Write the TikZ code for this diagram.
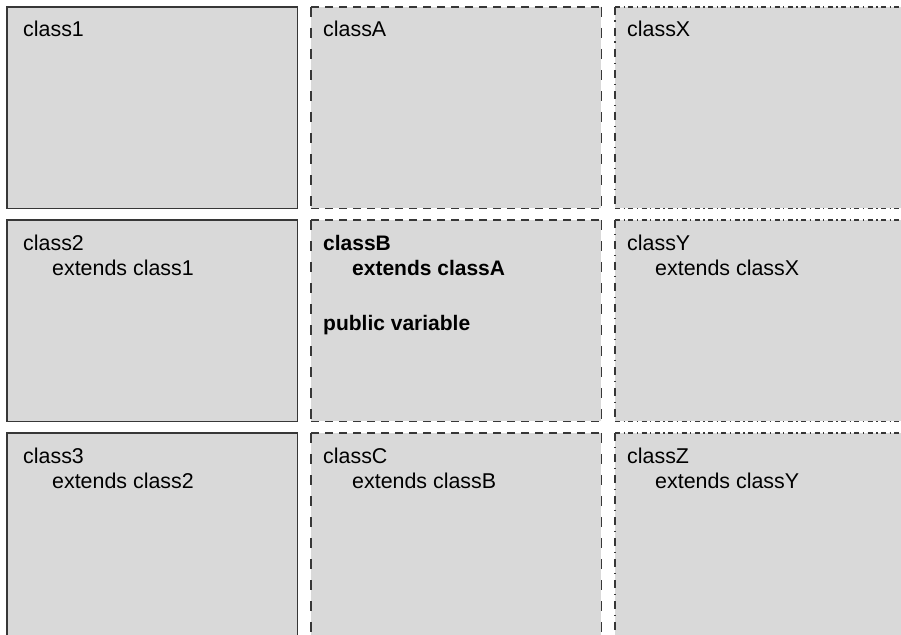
\documentclass[tikz,border=0pt]{standalone}
\usepackage{fontspec}
\setmainfont{Liberation Sans}
\definecolor{boxgray}{RGB}{217,217,217}
\definecolor{edgegray}{RGB}{55,55,55}
\tikzset{
  box/.style={fill=boxgray, draw=none, inner sep=0pt, anchor=north west,
    minimum width=290pt, minimum height=201pt},
  lastrow/.style={minimum height=215pt},
  edge/.style={draw=edgegray, line width=1.3pt},
  solidedge/.style={edge},
  dashh/.style={edge, dash pattern=on 8pt off 6pt},
  dashv/.style={edge, dash pattern=on 10pt off 11pt},
  dotdashh/.style={edge, dash pattern=on 5pt off 3.5pt on 1.3pt off 3.5pt},
  dotdashv/.style={edge, dash pattern=on 8pt off 5.5pt on 1.5pt off 6pt},
  lbl/.style={anchor=base west, inner sep=0pt, font=\fontsize{21.4}{25}\selectfont},
  blbl/.style={lbl, font=\fontsize{21}{25}\selectfont\bfseries},
}
\begin{document}
\begin{tikzpicture}[x=1pt,y=1pt]
\useasboundingbox (0,0) rectangle (901,-634);
\clip (0,0) rectangle (901,-634);
% boxes
\node[box] (c1) at (7,-7) {};
\node[box] (c2) at (7,-220) {};
\node[box, lastrow] (c3) at (7,-433) {};
\node[box] (cA) at (311,-7) {};
\node[box] (cB) at (311,-220) {};
\node[box, lastrow] (cC) at (311,-433) {};
\node[box] (cX) at (615,-7) {};
\node[box] (cY) at (615,-220) {};
\node[box, lastrow] (cZ) at (615,-433) {};
% column 1: solid
\foreach \b in {c1,c2,c3}{
  \draw[solidedge] (\b.north west) rectangle (\b.south east);
}
% column 2: dashed
\foreach \b in {cA,cB,cC}{
  \draw[dashh] (\b.north west) -- (\b.north east);
  \draw[dashh] (\b.south west) -- (\b.south east);
  \draw[dashv] (\b.north west) -- (\b.south west);
  \draw[dashv] (\b.north east) -- (\b.south east);
}
% column 3: dash-dot
\foreach \b in {cX,cY,cZ}{
  \draw[dotdashh] (\b.north west) -- (\b.north east);
  \draw[dotdashh] (\b.south west) -- (\b.south east);
  \draw[dotdashv] (\b.north west) -- (\b.south west);
  \draw[dotdashv] (\b.north east) -- (\b.south east);
}
% labels
\node[lbl] (t1) at (23,-37) {class1};
\node[lbl] (t2) at (23,-250) {class2};
\node[lbl] (t2e) at (52,-275) {extends class1};
\node[lbl] (t3) at (23,-463) {class3};
\node[lbl] (t3e) at (52,-488) {extends class2};
\node[lbl] (tA) at (323,-37) {classA};
\node[blbl] (tB) at (323,-250) {classB};
\node[blbl] (tBe) at (352,-275) {extends classA};
\node[blbl] (tBv) at (323,-330) {public variable};
\node[lbl] (tC) at (323,-463) {classC};
\node[lbl] (tCe) at (352,-488) {extends classB};
\node[lbl] (tX) at (627,-37) {classX};
\node[lbl] (tY) at (627,-250) {classY};
\node[lbl] (tYe) at (655,-275) {extends classX};
\node[lbl] (tZ) at (627,-463) {classZ};
\node[lbl] (tZe) at (655,-488) {extends classY};
\end{tikzpicture}
\end{document}
